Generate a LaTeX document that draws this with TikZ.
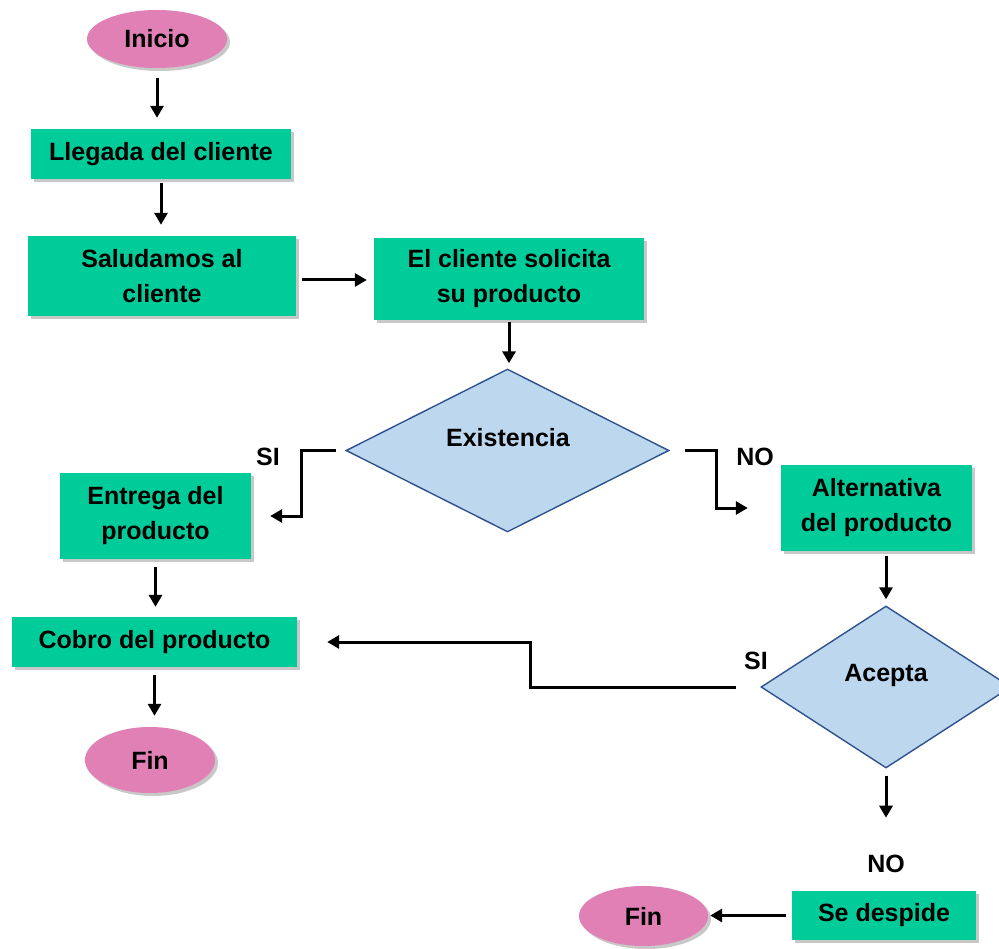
\documentclass[tikz,border=0pt]{standalone}
\usepackage{fontspec}
\setmainfont{Liberation Sans}
\usetikzlibrary{shapes.geometric,arrows.meta,shadows,calc}
\definecolor{boxgreen}{RGB}{0,204,153}
\definecolor{pinkell}{RGB}{224,128,180}
\definecolor{diafill}{RGB}{189,215,238}
\definecolor{diaedge}{RGB}{47,82,143}
\begin{document}
\begin{tikzpicture}[x=1pt,y=-1pt,
  txt/.style={font=\fontsize{25}{35}\selectfont\bfseries, align=center, text=black},
  shad/.style={drop shadow={shadow xshift=3pt, shadow yshift=-3pt, opacity=0.3, fill=black!70}},
  proc/.style={txt, rectangle, fill=boxgreen, inner sep=0pt, shad},
  term/.style={txt, ellipse, fill=pinkell, inner sep=0pt, shad},
  dec/.style={diamond, fill=diafill, draw=diaedge, line width=1.4pt, inner sep=0pt},
  arr/.style={line width=3pt, -{Triangle[width=13pt,length=12pt]}}
]
\useasboundingbox (0,0) rectangle (999,949);
\fill[white] (0,0) rectangle (999,949);

% nodes
\node[term, minimum width=140pt, minimum height=58pt] (ini) at (157,39) {Inicio};
\node[proc, minimum width=260pt, minimum height=50pt] (lle) at (161,154) {Llegada del cliente};
\node[proc, minimum width=268pt, minimum height=80pt] (sal) at (162,276) {Saludamos al\\cliente};
\node[proc, minimum width=270pt, minimum height=82pt] (cli) at (509,279) {El cliente solicita\\su producto};
\node[dec, minimum width=323pt, minimum height=163pt] (ex) at (507.5,450.5) {};
\node[txt] (ext) at (508,438) {Existencia};
\node[proc, minimum width=191pt, minimum height=86pt] (ent) at (155.5,516) {Entrega del\\producto};
\node[proc, minimum width=191pt, minimum height=86pt] (alt) at (876.5,508) {Alternativa\\del producto};
\node[dec, minimum width=250pt, minimum height=162pt] (ac) at (886,687) {};
\node[txt] (act) at (886,675) {Acepta};
\node[proc, minimum width=285pt, minimum height=50pt] (cob) at (154.5,642) {Cobro del producto};
\node[term, minimum width=130pt, minimum height=66pt] (fin1) at (150,760) {Fin};
\node[proc, minimum width=184pt, minimum height=49pt] (sed) at (884,915.5) {Se despide};
\node[term, minimum width=129pt, minimum height=60pt] (fin2) at (643.5,916) {Fin};

% labels
\node[txt] (l1) at (268,457) {SI};
\node[txt] (l2) at (755,457) {NO};
\node[txt] (l3) at (756,661) {SI};
\node[txt] (l4) at (886,864) {NO};

% connectors
\draw[arr, shorten <=10pt, shorten >=11pt] (ini.south) -- (ini.south |- lle.north);
\draw[arr, shorten <=4pt, shorten >=11pt] (lle.south) -- (lle.south |- sal.north);
\draw[arr, shorten <=6pt, shorten >=7pt] ([yshift=-4pt]sal.east) -- ([yshift=-4pt]sal.east -| cli.west);
\draw[arr, shorten <=2pt, shorten >=5pt] (cli.south) -- (cli.south |- ex.north);
\draw[arr] ([xshift=-9pt]ex.west) -- ++(-35,0) |- ([xshift=19pt]ent.east);
\draw[arr] ([xshift=15pt]ex.east) -- ++(32,0) |- ([xshift=-33pt]alt.west);
\draw[arr, shorten <=8pt, shorten >=10pt] (ent.south) -- (ent.south |- cob.north);
\draw[arr, shorten <=8pt, shorten >=11pt] (cob.south) -- (cob.south |- fin1.north);
\draw[arr, shorten <=5pt, shorten >=6pt] (ac.north |- alt.south) -- (ac.north);
\draw[arr] ([xshift=-24pt]ac.west) -- ++(-206,0) |- ([xshift=30pt]cob.east);
\coordinate (acno) at ($(ac.south)+(0,49)$);
\draw[arr, shorten <=7pt] (ac.south) -- (acno);
\draw[arr, shorten <=6pt, shorten >=2pt] (sed.west) -- (sed.west -| fin2.east);
\end{tikzpicture}
\end{document}
